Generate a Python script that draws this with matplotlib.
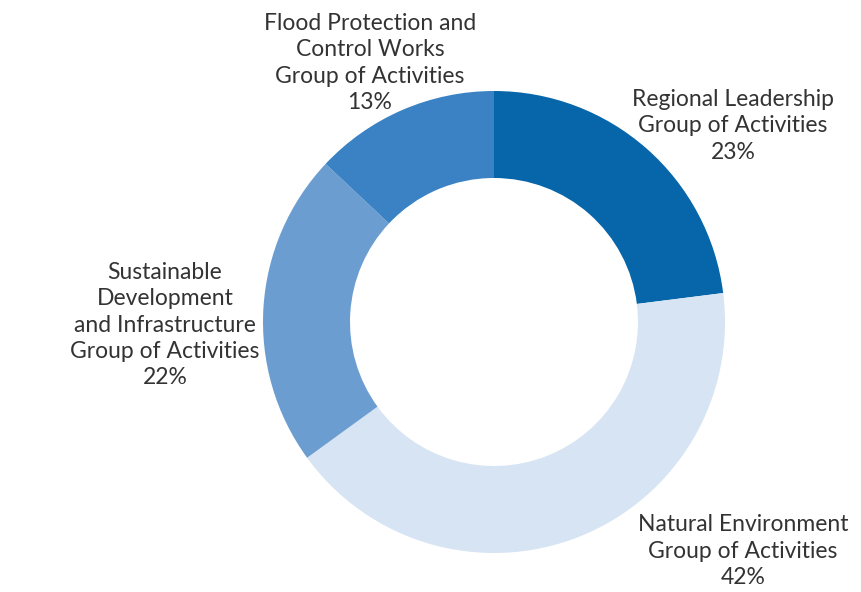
import matplotlib
matplotlib.use("Agg")
import matplotlib.pyplot as plt

# Dados do gráfico
grupos = ["Regional Leadership\nGroup of Activities",
          "Natural Environment\nGroup of Activities",
          "Sustainable\nDevelopment\nand Infrastructure\nGroup of Activities",
          "Flood Protection and\nControl Works\nGroup of Activities"]
percentuais = [23, 42, 22, 13]
cores = ["#0765a9", "#d6e4f3", "#6b9dd1", "#3a82c4"]

# posição dos rótulos (pixels, origem em cima à esquerda)
pos_rotulos = [(733, 126), (743, 551), (165, 325), (370, 63)]

plt.rcParams['font.family'] = ['Lato', 'DejaVu Sans']

W, H = 861, 592
fig = plt.figure(figsize=(W / 100, H / 100), dpi=100)
ax = fig.add_axes([0, 0, 1, 1])

ax.pie(percentuais, colors=cores, startangle=90, counterclock=False,
       radius=231, center=(494, H - 322),
       wedgeprops=dict(width=87, linewidth=0))

# a pizza muda os limites, então definir depois
ax.set_xlim(0, W)
ax.set_ylim(0, H)
ax.set_aspect('equal')
ax.axis('off')

for nome, pct, (x, y) in zip(grupos, percentuais, pos_rotulos):
    ax.text(x, H - y, f"{nome}\n{pct}%", ha='center', va='center',
            fontsize=16.5, fontweight='normal', color='#333333', linespacing=1.32)

fig.savefig("out.png", dpi=100)
